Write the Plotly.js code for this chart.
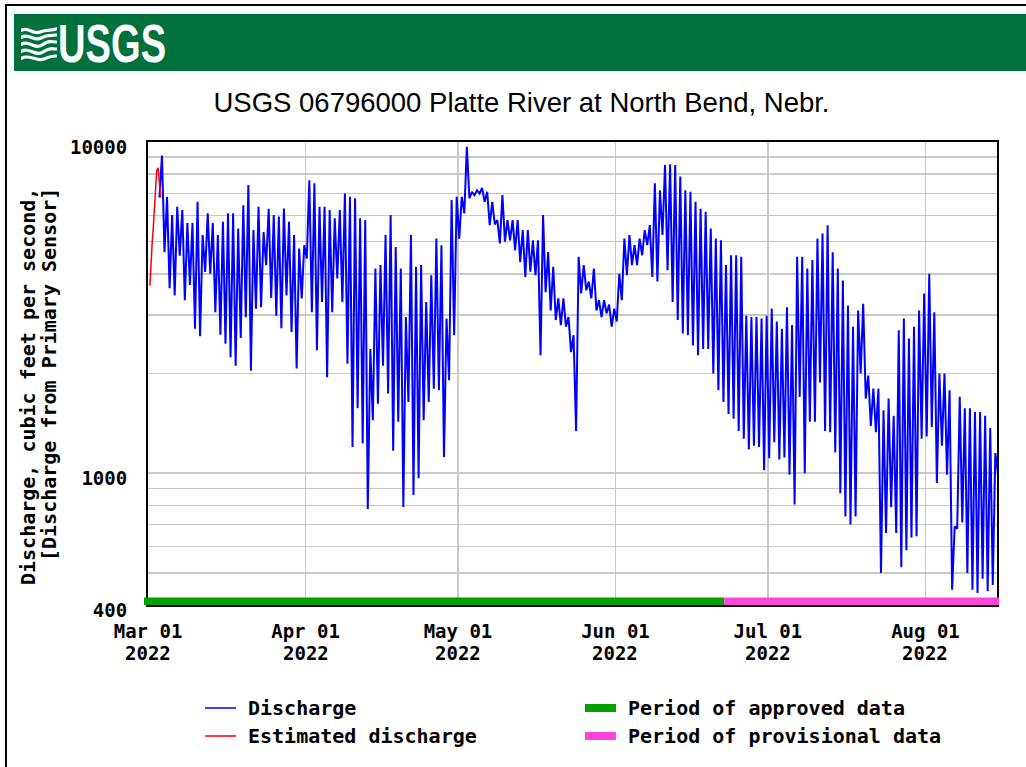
<!DOCTYPE html>
<html>
<head>
<meta charset="utf-8">
<script src="https://cdn.plot.ly/plotly-3.0.1.min.js"></script>
<style>
  html, body { margin: 0; padding: 0; background: #fff; overflow: hidden; }
  #wrap { position: relative; width: 1026px; height: 767px; overflow: hidden; }
  #chart { position: absolute; left: 0; top: 0; width: 1026px; height: 767px; }
  .ov { position: absolute; pointer-events: none; }
</style>
</head>
<body>
<div id="wrap">
  <div id="chart"></div>
  <div class="ov" style="left:5px;top:4px;width:1100px;height:900px;border:2px solid #000;"></div>
  <div class="ov" style="left:14px;top:14px;width:1012px;height:57px;background:#00703c;"></div>
  <svg class="ov" style="left:21px;top:26px" width="36" height="36" viewBox="0 0 36 36">
    <g fill="none" stroke="#fff" stroke-width="3.2" stroke-linecap="square">
      <path d="M1,4 C8,1 12,9 19,6 S30,5 35,3"/>
      <path d="M1,11 C8,7 13,16 20,12 S30,10 35,9"/>
      <path d="M1,18 C8,14 14,24 21,19 S30,16 35,16"/>
      <path d="M1,25 C8,21 15,31 22,26 S31,23 35,23"/>
      <path d="M1,32 C8,28 16,36 23,33 S31,30 35,30"/>
    </g>
  </svg>
  <div class="ov" style="left:58px;top:17px;font-family:'Liberation Sans',Arial,sans-serif;font-weight:bold;font-size:53px;line-height:1;color:#fff;transform:scaleX(0.72);transform-origin:0 0;white-space:nowrap;">USGS</div>
</div>
<script>
// ---------------- data ----------------
const months = ['2022-03', '2022-04', '2022-05', '2022-06', '2022-07', '2022-08'];

// daily high / low discharge, ft3/s (index = day of month - 1)
const marHigh = [null, null, 9100, 6830, 6020, 6370, 6230, 5690, 5690, 6600, 5240, 6090, 5690, 5240, 5740, 6090, 6090, 5480, 6440, 7410, 5420, 6370, 5350, 6290, 6020, 5960, 6300, 5740, 5240, 4770, 4880];
const marLow  = [null, null, 6800, 4650, 3620, 3440, 4540, 3330, 3700, 2730, 2590, 4050, 4000, 3060, 2620, 2460, 2240, 2110, 2560, 2960, 2040, 3140, 3170, 4250, 3380, 2990, 2740, 3440, 2670, 2070, 3370];
const aprHigh = [7670, 7500, 6370, 6370, 6230, 5880, 6230, 6990, 6830, 6760, 5880, 5810, 2370, 4150, 4250, 5240, 6020, 4820, 4150, 2960, 5240, 4200, 4250, 3290, 3960, 5110, 4880, 2930, 6680, 6830];
const aprLow  = [4450, 3060, 2350, 3290, 1950, 3060, 3870, 3290, 2140, 1200, 1570, 1230, 780, 1445, 1620, 2110, 1740, 1170, 1430, 790, 1640, 860, 965, 1445, 1640, 1800, 1780, 1120, 1910, 2610];
const mayHigh = [6830, 9680, 7070, 7150, 7270, 7070, 6600, 5810, 6910, 5810, 5810, 5810, 5420, 5420, 5050, 5050, 6020, 4650, 4200, 3370, 3370, 2960, 2610, 4500, 4250, 3790, 4150, 3330, 3330, 3230, 3140];
const mayLow  = [5110, 6090, 6760, 6910, 6990, 6600, 5610, 5640, 4940, 5000, 5050, 4710, 4340, 3910, 4060, 3960, 2270, 3520, 3100, 2900, 2800, 2770, 2320, 1340, 3490, 3570, 3370, 3100, 2960, 3040, 2770];
const junHigh = [4000, 5110, 5240, 4880, 5110, 5420, 5610, 7500, 7150, 8520, 8560, 8520, 7860, 7150, 7070, 6600, 6290, 6160, 5480, 5110, 5050, 4250, 4550, 4550, 4500, 2990, 2960, 2960, 2930, 2990];
const junLow  = [2870, 3330, 3960, 4250, 4250, 4550, 4880, 3910, 3790, 5240, 4100, 3290, 2900, 2640, 2610, 2430, 2270, 2370, 2370, 2000, 1780, 1640, 1510, 1460, 1340, 1270, 1180, 1210, 1200, 1020];
const julHigh = [3140, 2870, 2730, 3170, 2800, 4500, 4500, 4150, 4400, 5110, 5290, 5610, 4650, 4150, 3820, 3210, 2770, 3100, 3250, 1970, 1800, 1800, 1550, 1680, 1490, 2700, 2930, 2550, 2770, 3100, 3490];
const julLow  = [1110, 1240, 1100, 1115, 990, 805, 1700, 1000, 1430, 1430, 1880, 1340, 1330, 1155, 870, 740, 700, 740, 2000, 1680, 1390, 1330, 500, 660, 790, 660, 520, 585, 640, 645, 1270];
const augHigh = [4000, 3060, 2000, 2000, 1780, 690, 1700, 1570, 1570, 1530, 1530, 1490, 1370, 1150, 1480];
const augLow  = [1290, 1380, 935, 1210, 990, 445, 680, 710, 500, 445, 435, 480, 440, 460, 1000];

// estimated discharge (red), start of record
const estTimes  = ['2022-03-01 09:00', '2022-03-01 13:00', '2022-03-01 20:00', '2022-03-02 01:00', '2022-03-02 09:00', '2022-03-02 17:00', '2022-03-03 00:00', '2022-03-03 05:00', '2022-03-03 12:00'];
const estValues = [3680, 4200, 5000, 5500, 6850, 8200, 8350, 7700, 6800];

// data-approval periods
const periodLabels = ['Period of approved data', 'Period of provisional data'];
const periodStart  = ['2022-02-28 05:00', '2022-06-22 10:00'];
const periodEnd    = ['2022-06-22 10:00', '2022-08-15 12:00'];
const periodColors = ['#00a000', '#ff44dd'];

// series legend
const seriesLabels = ['Discharge', 'Estimated discharge'];
const seriesColors = ['#0000ff', '#ff0000'];

// axes
const xRange = ['2022-03-01 00:00', '2022-08-15 02:00'];
const monthTicks  = ['2022-03-01', '2022-04-01', '2022-05-01', '2022-06-01', '2022-07-01', '2022-08-01'];
const monthLabels = ['Mar 01', 'Apr 01', 'May 01', 'Jun 01', 'Jul 01', 'Aug 01'];
const yearLabels  = ['2022', '2022', '2022', '2022', '2022', '2022'];
const yGridVals   = [400, 500, 600, 700, 800, 900, 1000, 2000, 3000, 4000, 5000, 6000, 7000, 8000, 9000, 10000];
const yLabelVals  = [400, 1000, 10000];
const yTitleLines = ['Discharge, cubic feet per second,', '[Discharge from Primary Sensor]'];
const titleText = 'USGS 06796000 Platte River at North Bend, Nebr.';

// ---------------- build ----------------
const highs = [marHigh, aprHigh, mayHigh, junHigh, julHigh, augHigh];
const lows  = [marLow, aprLow, mayLow, junLow, julLow, augLow];
const bx = [], by = [];
months.forEach((m, mi) => {
  highs[mi].forEach((h, i) => {
    if (h == null) return;
    const d = m + '-' + String(i + 1).padStart(2, '0');
    bx.push(d + ' 06:00'); by.push(lows[mi][i]);
    bx.push(d + ' 18:00'); by.push(h);
  });
});

const W = 1026, H = 767, L = 148, R = 997, T = 142, B = 605;
const xp = px => (px - L) / (R - L);
const yp = py => (B - py) / (B - T);
const toMs = s => Date.parse((s.length === 10 ? s + 'T00:00' : s.replace(' ', 'T')) + ':00Z');
const xd = s => (toMs(s) - toMs(xRange[0])) / (toMs(xRange[1]) - toMs(xRange[0]));

const monoFont = 'DejaVu Sans Mono, monospace';
const tickSize = 19;

const traces = [
  { x: bx, y: by, type: 'scatter', mode: 'lines', line: { color: seriesColors[0], width: 2 }, hoverinfo: 'skip', showlegend: false },
  { x: estTimes, y: estValues, type: 'scatter', mode: 'lines', line: { color: seriesColors[1], width: 1.5 }, hoverinfo: 'skip', showlegend: false }
];

const shapes = [];
const annotations = [];

// period bars along the bottom of the plot
periodLabels.forEach((p, i) => {
  const a = Math.max(xd(periodStart[i]), xp(144));
  const b = Math.min(xd(periodEnd[i]), xp(999));
  shapes.push({ type: 'rect', xref: 'paper', yref: 'paper', x0: a, x1: b,
    y0: yp(605), y1: yp(597.5), fillcolor: periodColors[i], line: { width: 0 }, layer: 'above' });
});

// year line of x tick labels
monthTicks.forEach((t, i) => {
  annotations.push({ text: yearLabels[i], x: t, xref: 'x', y: yp(653), yref: 'paper', xanchor: 'center', yanchor: 'middle',
    showarrow: false, font: { family: monoFont, size: tickSize, weight: 'bold', color: '#000' } });
});

// y axis title (two lines)
[27.5, 48.5].forEach((px, i) => {
  annotations.push({ text: yTitleLines[i], x: xp(px), y: yp(186), xref: 'paper', yref: 'paper', textangle: -90,
    xanchor: 'center', yanchor: 'top', showarrow: false, font: { family: monoFont, size: 20, weight: 'bold', color: '#000' } });
});

// legend
const legRows = [708, 736];
seriesLabels.forEach((s, i) => {
  shapes.push({ type: 'line', xref: 'paper', yref: 'paper', x0: xp(205), x1: xp(236), y0: yp(legRows[i]), y1: yp(legRows[i]),
    line: { color: seriesColors[i], width: 1.5 } });
  annotations.push({ text: s, x: xp(246), y: yp(legRows[i]), xref: 'paper', yref: 'paper', xanchor: 'left', yanchor: 'middle',
    showarrow: false, font: { family: monoFont, size: 20, weight: 'bold', color: '#000' } });
});
periodLabels.forEach((p, i) => {
  shapes.push({ type: 'rect', xref: 'paper', yref: 'paper', x0: xp(585), x1: xp(616), y0: yp(legRows[i] + 4), y1: yp(legRows[i] - 4),
    fillcolor: periodColors[i], line: { width: 0 } });
  annotations.push({ text: p, x: xp(626), y: yp(legRows[i]), xref: 'paper', yref: 'paper', xanchor: 'left', yanchor: 'middle',
    showarrow: false, font: { family: monoFont, size: 20, weight: 'bold', color: '#000' } });
});

const layout = {
  width: W, height: H,
  margin: { l: L, r: W - R, t: T, b: H - B, pad: 0 },
  paper_bgcolor: '#fff', plot_bgcolor: '#fff',
  font: { family: monoFont, size: tickSize, color: '#000', weight: 'bold' },
  showlegend: false,
  title: { text: titleText, font: { family: 'Liberation Sans, Arial, sans-serif', size: 27.5, color: '#000', weight: 'normal' },
    x: 521.5 / W, xref: 'container', xanchor: 'center', y: 1 - 102 / H, yref: 'container', yanchor: 'middle' },
  xaxis: {
    type: 'date', range: xRange, tickmode: 'array', tickvals: monthTicks, ticktext: monthLabels,
    showgrid: true, gridcolor: '#c8c8c8', gridwidth: 1.5, zeroline: false,
    showline: true, linecolor: '#000', linewidth: 2, mirror: true, ticks: '',
    ticklabelstandoff: 8, tickfont: { family: monoFont, size: tickSize, weight: 'bold', color: '#000' }
  },
  yaxis: {
    type: 'log', range: [Math.log10(400), 4], tickmode: 'array', tickvals: yGridVals,
    ticktext: yGridVals.map(v => yLabelVals.includes(v) ? String(v) : ''),
    showgrid: true, gridcolor: '#c8c8c8', gridwidth: 1.5, zeroline: false,
    showline: true, linecolor: '#000', linewidth: 2, mirror: true, ticks: '',
    ticklabelstandoff: 15, ticklabelshift: 5, tickfont: { family: monoFont, size: tickSize, weight: 'bold', color: '#000' }
  },
  shapes: shapes,
  annotations: annotations
};

Plotly.newPlot('chart', traces, layout, { staticPlot: true, displayModeBar: false });
</script>
</body>
</html>
